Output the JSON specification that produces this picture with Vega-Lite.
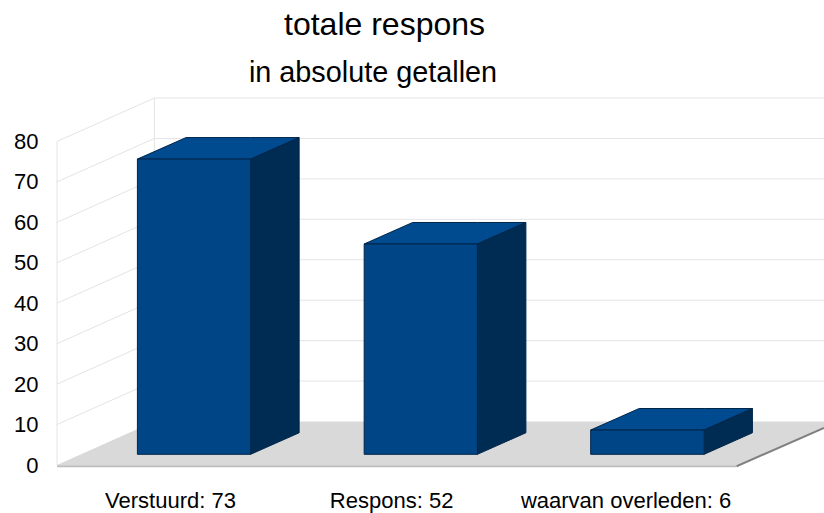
{
  "$schema": "https://vega.github.io/schema/vega-lite/v6.json",
  "width": 767,
  "height": 367,
  "autosize": "none",
  "padding": {"left": 57, "top": 98, "right": 0, "bottom": 48},
  "background": "white",
  "title": {"text": "totale respons", "font": "Liberation Sans", "fontSize": 32, "fontWeight": "normal", "color": "#000000", "anchor": "middle", "frame": "group", "dx": -56, "offset": 17},
  "config": {"view": {"stroke": null}},
  "datasets": {
    "balken": [
      {"naam": "Verstuurd", "aantal": 73, "van": 0.355, "tot": 0.855},
      {"naam": "Respons", "aantal": 52, "van": 1.356, "tot": 1.856},
      {"naam": "waarvan overleden", "aantal": 6, "van": 2.356, "tot": 2.857}
    ],
    "vlakken": [
      {"vlak": "Verstuurd boven", "kant": "boven", "langs": 0.355, "onder": 75.65, "boven": 75.65},
      {"vlak": "Verstuurd boven", "kant": "boven", "langs": 0.57, "onder": 75.65, "boven": 80.97},
      {"vlak": "Verstuurd boven", "kant": "boven", "langs": 0.855, "onder": 75.65, "boven": 80.97},
      {"vlak": "Verstuurd boven", "kant": "boven", "langs": 1.069, "onder": 80.97, "boven": 80.97},
      {"vlak": "Verstuurd zij", "kant": "zij", "langs": 0.855, "onder": 2.65, "boven": 75.65},
      {"vlak": "Verstuurd zij", "kant": "zij", "langs": 1.069, "onder": 7.97, "boven": 80.97},
      {"vlak": "Respons boven", "kant": "boven", "langs": 1.356, "onder": 54.65, "boven": 54.65},
      {"vlak": "Respons boven", "kant": "boven", "langs": 1.57, "onder": 54.65, "boven": 59.97},
      {"vlak": "Respons boven", "kant": "boven", "langs": 1.856, "onder": 54.65, "boven": 59.97},
      {"vlak": "Respons boven", "kant": "boven", "langs": 2.07, "onder": 59.97, "boven": 59.97},
      {"vlak": "Respons zij", "kant": "zij", "langs": 1.856, "onder": 2.65, "boven": 54.65},
      {"vlak": "Respons zij", "kant": "zij", "langs": 2.07, "onder": 7.97, "boven": 59.97},
      {"vlak": "Overleden boven", "kant": "boven", "langs": 2.356, "onder": 8.65, "boven": 8.65},
      {"vlak": "Overleden boven", "kant": "boven", "langs": 2.57, "onder": 8.65, "boven": 13.97},
      {"vlak": "Overleden boven", "kant": "boven", "langs": 2.857, "onder": 8.65, "boven": 13.97},
      {"vlak": "Overleden boven", "kant": "boven", "langs": 3.07, "onder": 13.97, "boven": 13.97},
      {"vlak": "Overleden zij", "kant": "zij", "langs": 2.857, "onder": 2.65, "boven": 8.65},
      {"vlak": "Overleden zij", "kant": "zij", "langs": 3.07, "onder": 7.97, "boven": 13.97}
    ],
    "vloer": [
      {"langs": 0, "onder": 0, "boven": 0},
      {"langs": 0.43, "onder": 0, "boven": 10.75},
      {"langs": 3.0, "onder": 0, "boven": 10.75},
      {"langs": 3.386, "onder": 9.2, "boven": 10.75}
    ],
    "rooster": [
      {"lijn": "10", "langs": 0, "niveau": 10}, {"lijn": "10", "langs": 0.43, "niveau": 20.75}, {"lijn": "10", "langs": 3.386, "niveau": 20.75},
      {"lijn": "20", "langs": 0, "niveau": 20}, {"lijn": "20", "langs": 0.43, "niveau": 30.75}, {"lijn": "20", "langs": 3.386, "niveau": 30.75},
      {"lijn": "30", "langs": 0, "niveau": 30}, {"lijn": "30", "langs": 0.43, "niveau": 40.75}, {"lijn": "30", "langs": 3.386, "niveau": 40.75},
      {"lijn": "40", "langs": 0, "niveau": 40}, {"lijn": "40", "langs": 0.43, "niveau": 50.75}, {"lijn": "40", "langs": 3.386, "niveau": 50.75},
      {"lijn": "50", "langs": 0, "niveau": 50}, {"lijn": "50", "langs": 0.43, "niveau": 60.75}, {"lijn": "50", "langs": 3.386, "niveau": 60.75},
      {"lijn": "60", "langs": 0, "niveau": 60}, {"lijn": "60", "langs": 0.43, "niveau": 70.75}, {"lijn": "60", "langs": 3.386, "niveau": 70.75},
      {"lijn": "70", "langs": 0, "niveau": 70}, {"lijn": "70", "langs": 0.43, "niveau": 80.75}, {"lijn": "70", "langs": 3.386, "niveau": 80.75},
      {"lijn": "80", "langs": 0, "niveau": 80}, {"lijn": "80", "langs": 0.43, "niveau": 90.75}, {"lijn": "80", "langs": 3.386, "niveau": 90.75},
      {"lijn": "links", "langs": 0, "niveau": 0}, {"lijn": "links", "langs": 0, "niveau": 80},
      {"lijn": "achter", "langs": 0.43, "niveau": 10.75}, {"lijn": "achter", "langs": 0.43, "niveau": 90.75}
    ],
    "voorrand": [
      {"langs": 0, "niveau": -0.3}, {"langs": 3.0, "niveau": -0.3}
    ],
    "zijrand": [
      {"langs": 3.0, "niveau": -0.3}, {"langs": 3.386, "niveau": 9.2}
    ],
    "ondertitel": [
      {"tekst": "in absolute getallen", "langs": 1.395, "niveau": 94.7}
    ]
  },
  "layer": [
    {
      "data": {"name": "rooster"},
      "mark": {"type": "line", "stroke": "#e4e4e4", "strokeWidth": 1},
      "encoding": {
        "x": {"field": "langs", "type": "quantitative", "scale": {"domain": [0, 3.386], "nice": false, "zero": false},
          "axis": {"title": null, "domain": false, "ticks": false, "grid": false, "values": [0.499, 1.475, 2.51], "labelFont": "Liberation Sans", "labelFontSize": 22, "labelColor": "#000000", "labelPadding": 25, "labelFlush": false, "labelOverlap": false, "labelBound": false, "labelLimit": 400,
            "labelExpr": "datum.value < 1 ? 'Verstuurd: 73' : datum.value < 2 ? 'Respons: 52' : 'waarvan overleden: 6'"}},
        "y": {"field": "niveau", "type": "quantitative", "scale": {"domain": [0, 90.75], "nice": false},
          "axis": {"title": null, "domain": false, "ticks": false, "grid": false, "values": [0, 10, 20, 30, 40, 50, 60, 70, 80], "labelFont": "Liberation Sans", "labelFontSize": 22, "labelColor": "#000000", "labelPadding": 19, "labelOverlap": false, "labelBound": false, "labelFlush": false}},
        "detail": {"field": "lijn"}
      }
    },
    {
      "data": {"name": "vloer"},
      "mark": {"type": "area", "orient": "vertical", "color": "#d9d9d9"},
      "encoding": {
        "x": {"field": "langs", "type": "quantitative"},
        "y": {"field": "onder", "type": "quantitative"},
        "y2": {"field": "boven"}
      }
    },
    {
      "data": {"name": "voorrand"},
      "mark": {"type": "line", "stroke": "#bdbdbd", "strokeWidth": 2},
      "encoding": {
        "x": {"field": "langs", "type": "quantitative"},
        "y": {"field": "niveau", "type": "quantitative"}
      }
    },
    {
      "data": {"name": "zijrand"},
      "mark": {"type": "line", "stroke": "#808080", "strokeWidth": 2},
      "encoding": {
        "x": {"field": "langs", "type": "quantitative"},
        "y": {"field": "niveau", "type": "quantitative"}
      }
    },
    {
      "data": {"name": "vlakken"},
      "mark": {"type": "area", "orient": "vertical", "stroke": "#00264a", "strokeWidth": 1},
      "encoding": {
        "x": {"field": "langs", "type": "quantitative"},
        "y": {"field": "onder", "type": "quantitative"},
        "y2": {"field": "boven"},
        "detail": {"field": "vlak"},
        "color": {"field": "kant", "type": "nominal", "legend": null, "scale": {"domain": ["boven", "zij"], "range": ["#004a8f", "#002b53"]}}
      }
    },
    {
      "data": {"name": "balken"},
      "mark": {"type": "rect", "color": "#004586", "stroke": "#00264a", "strokeWidth": 1, "yOffset": -10.7, "y2Offset": -10.7},
      "encoding": {
        "x": {"field": "van", "type": "quantitative"},
        "x2": {"field": "tot"},
        "y": {"field": "aantal", "type": "quantitative"},
        "y2": {"datum": 0}
      }
    },
    {
      "data": {"name": "ondertitel"},
      "mark": {"type": "text", "font": "Liberation Sans", "fontSize": 28.8, "color": "#000000", "align": "center", "baseline": "alphabetic"},
      "encoding": {
        "x": {"field": "langs", "type": "quantitative"},
        "y": {"field": "niveau", "type": "quantitative"},
        "text": {"field": "tekst"}
      }
    }
  ]
}
